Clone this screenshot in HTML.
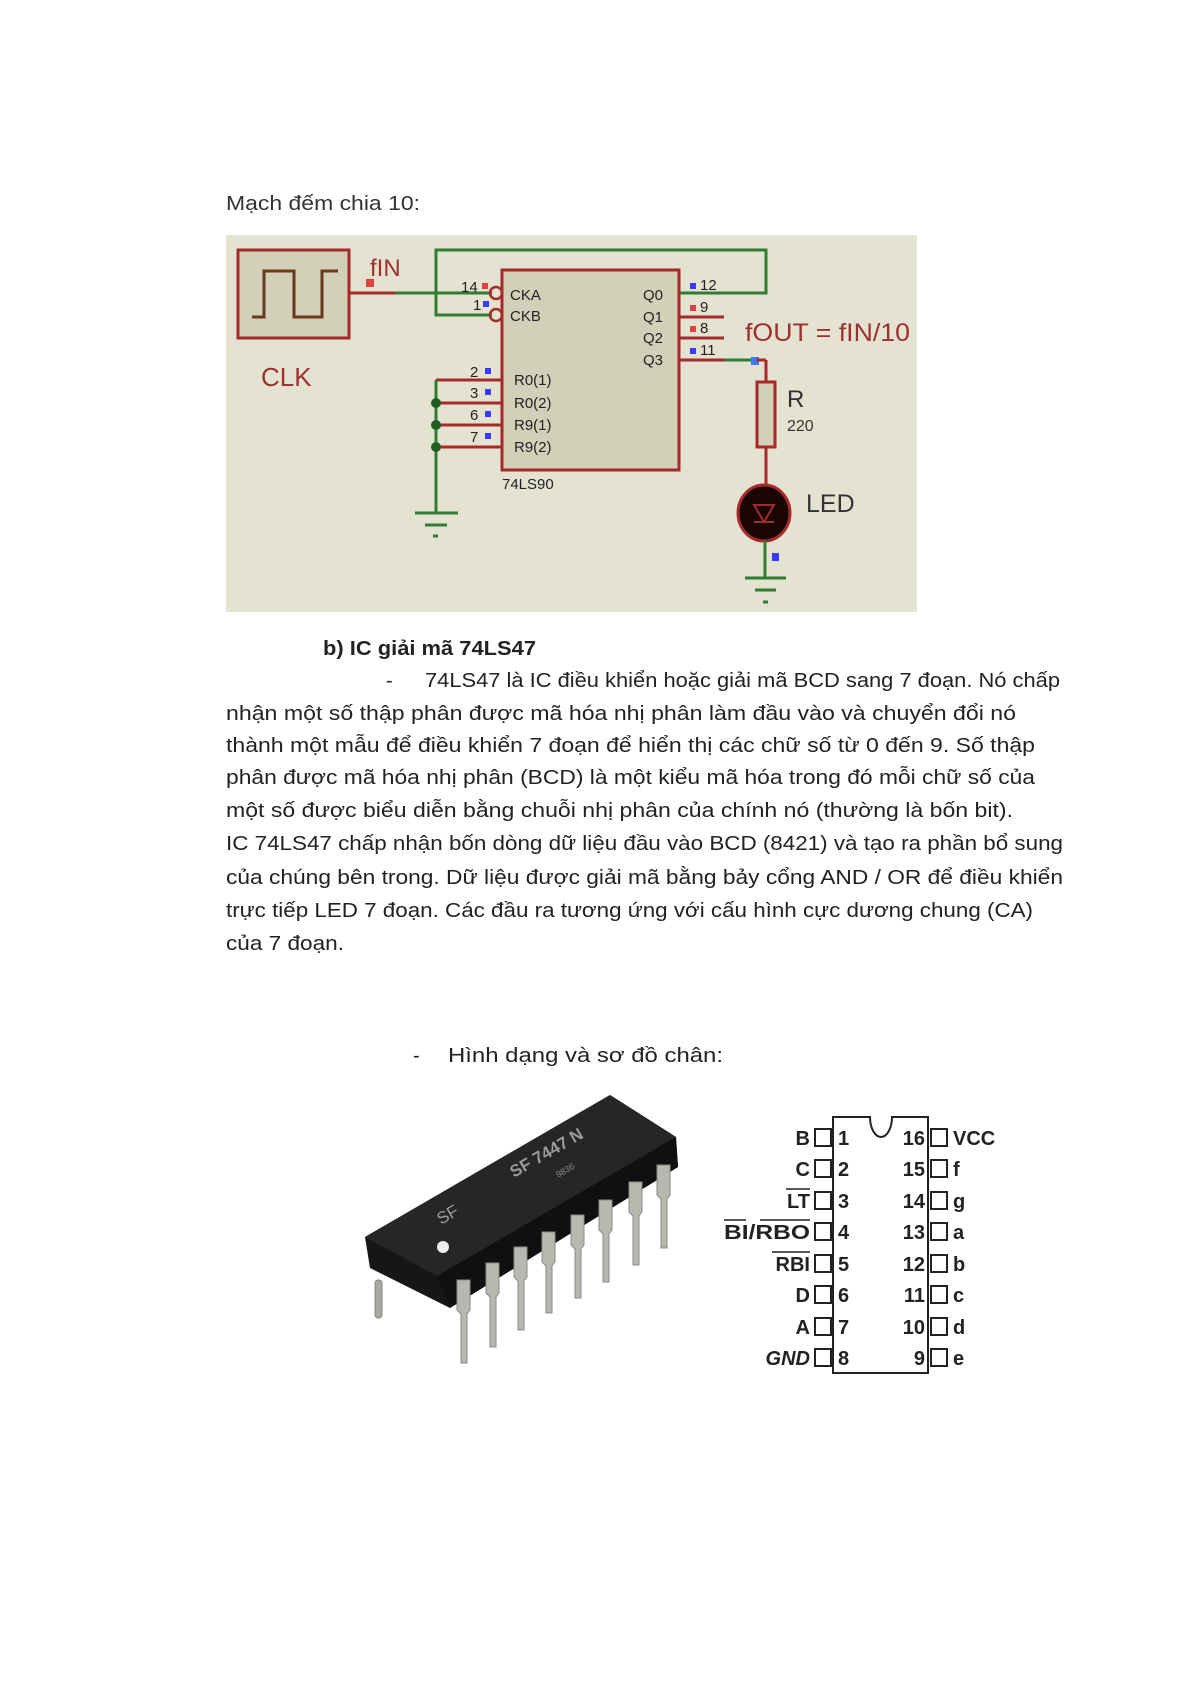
<!DOCTYPE html>
<html><head><meta charset="utf-8"><style>
html,body{margin:0;padding:0;background:#fff;}
svg{display:block;}
text{font-family:"Liberation Sans","DejaVu Sans",sans-serif;}
</style></head><body>
<svg width="1191" height="1685" viewBox="0 0 1191 1685" xmlns="http://www.w3.org/2000/svg">
<rect width="1191" height="1685" fill="#fff"/>
<text x="226" y="210" font-size="20" fill="#333" textLength="194" lengthAdjust="spacingAndGlyphs">Mạch đếm chia 10:</text>
<rect x="226" y="235" width="691" height="377" fill="#e4e3d2"/>
<rect x="238" y="250" width="111" height="88" fill="#d2d0b8" stroke="#a52a2a" stroke-width="3"/>
<polyline points="252,317 264,317 264,271 294,271 294,317 322,317 322,271 338,271" fill="none" stroke="#6b3a1a" stroke-width="3"/>
<text x="261" y="386" font-size="26" fill="#a03030">CLK</text>
<text x="370" y="276" font-size="24" fill="#a03030">fIN</text>
<rect x="366" y="279" width="8" height="8" fill="#e04040"/>
<line x1="349" y1="293" x2="492" y2="293" stroke="#2e7d32" stroke-width="3"/>
<line x1="349" y1="293" x2="395" y2="293" stroke="#a52a2a" stroke-width="3"/>
<polyline points="492,315 436,315 436,250 766,250 766,293 679,293" fill="none" stroke="#2e7d32" stroke-width="3"/>
<rect x="502" y="270" width="177" height="200" fill="#d2d0b8" stroke="#a52a2a" stroke-width="3"/>
<circle cx="496" cy="293" r="6" fill="none" stroke="#a52a2a" stroke-width="2.5"/>
<circle cx="496" cy="315" r="6" fill="none" stroke="#a52a2a" stroke-width="2.5"/>
<g font-size="15" fill="#222">
<text x="510" y="300">CKA</text><text x="510" y="321">CKB</text>
<text x="643" y="300">Q0</text><text x="643" y="322">Q1</text><text x="643" y="343">Q2</text><text x="643" y="365">Q3</text>
<text x="514" y="385">R0(1)</text><text x="514" y="408">R0(2)</text><text x="514" y="430">R9(1)</text><text x="514" y="452">R9(2)</text>
<text x="502" y="489">74LS90</text>
<text x="461" y="292">14</text><text x="473" y="310">1</text>
<text x="470" y="377">2</text><text x="470" y="398">3</text><text x="470" y="420">6</text><text x="470" y="442">7</text>
<text x="700" y="290">12</text><text x="700" y="312">9</text><text x="700" y="333">8</text><text x="700" y="355">11</text>
</g>
<rect x="482" y="283" width="6" height="6" fill="#e04040"/><rect x="483" y="301" width="6" height="6" fill="#3a3aff"/>
<rect x="485" y="368" width="6" height="6" fill="#3a3aff"/><rect x="485" y="389" width="6" height="6" fill="#3a3aff"/>
<rect x="485" y="411" width="6" height="6" fill="#3a3aff"/><rect x="485" y="433" width="6" height="6" fill="#3a3aff"/>
<rect x="690" y="283" width="6" height="6" fill="#3a3aff"/><rect x="690" y="305" width="6" height="6" fill="#e04040"/>
<rect x="690" y="326" width="6" height="6" fill="#e04040"/><rect x="690" y="348" width="6" height="6" fill="#3a3aff"/>
<g stroke="#a52a2a" stroke-width="3">
<line x1="679" y1="317" x2="724" y2="317"/><line x1="679" y1="338" x2="724" y2="338"/>
<line x1="679" y1="360" x2="730" y2="360"/>
</g>
<line x1="725" y1="360" x2="754" y2="360" stroke="#2e7d32" stroke-width="3"/>
<rect x="751" y="357" width="8" height="8" fill="#3a7aff"/>
<text x="745" y="341" font-size="25" fill="#a03030" textLength="165" lengthAdjust="spacingAndGlyphs">fOUT = fIN/10</text>
<line x1="766" y1="360" x2="766" y2="490" stroke="#a52a2a" stroke-width="3"/>
<line x1="756" y1="360" x2="766" y2="360" stroke="#a52a2a" stroke-width="3"/>
<rect x="757" y="382" width="18" height="65" fill="#d2d0b8" stroke="#a52a2a" stroke-width="3"/>
<text x="787" y="407" font-size="24" fill="#333">R</text>
<text x="787" y="431" font-size="16" fill="#333">220</text>
<ellipse cx="764" cy="513" rx="26" ry="28" fill="#1a0505" stroke="#a52a2a" stroke-width="3"/>
<polygon points="754,505 774,505 764,522" fill="none" stroke="#a52a2a" stroke-width="2"/>
<line x1="754" y1="522" x2="774" y2="522" stroke="#a52a2a" stroke-width="2"/>
<text x="806" y="512" font-size="25" fill="#333">LED</text>
<line x1="765" y1="541" x2="765" y2="578" stroke="#2e7d32" stroke-width="3"/>
<rect x="772" y="553" width="7" height="8" fill="#3a3aff"/>
<line x1="745" y1="578" x2="786" y2="578" stroke="#2e7d32" stroke-width="3"/>
<line x1="755" y1="590" x2="776" y2="590" stroke="#2e7d32" stroke-width="3"/>
<line x1="763" y1="602" x2="768" y2="602" stroke="#2e7d32" stroke-width="3"/>
<g stroke="#a52a2a" stroke-width="3">
<line x1="436" y1="380" x2="502" y2="380"/><line x1="436" y1="403" x2="502" y2="403"/>
<line x1="436" y1="425" x2="502" y2="425"/><line x1="436" y1="447" x2="502" y2="447"/>
</g>
<line x1="436" y1="380" x2="436" y2="513" stroke="#2e7d32" stroke-width="3"/>
<circle cx="436" cy="403" r="5" fill="#1f5f22"/><circle cx="436" cy="425" r="5" fill="#1f5f22"/><circle cx="436" cy="447" r="5" fill="#1f5f22"/>
<line x1="415" y1="513" x2="458" y2="513" stroke="#2e7d32" stroke-width="3"/>
<line x1="425" y1="525" x2="447" y2="525" stroke="#2e7d32" stroke-width="3"/>
<line x1="433" y1="536" x2="438" y2="536" stroke="#2e7d32" stroke-width="3"/>
<g fill="#222" font-size="20">
<text x="323" y="655" font-weight="bold" textLength="213" lengthAdjust="spacingAndGlyphs">b)  IC giải mã 74LS47</text>
<text x="386" y="687">-</text>
<text x="425" y="687" textLength="635" lengthAdjust="spacingAndGlyphs">74LS47 là IC điều khiển hoặc giải mã BCD sang 7 đoạn. Nó chấp</text>
<text x="226" y="720" textLength="790" lengthAdjust="spacingAndGlyphs">nhận một số thập phân được mã hóa nhị phân làm đầu vào và chuyển đổi nó</text>
<text x="226" y="752" textLength="809" lengthAdjust="spacingAndGlyphs">thành một mẫu để điều khiển 7 đoạn để hiển thị các chữ số từ 0 đến 9. Số thập</text>
<text x="226" y="784" textLength="809" lengthAdjust="spacingAndGlyphs">phân được mã hóa nhị phân (BCD) là một kiểu mã hóa trong đó mỗi chữ số của</text>
<text x="226" y="817" textLength="787" lengthAdjust="spacingAndGlyphs">một số được biểu diễn bằng chuỗi nhị phân của chính nó (thường là bốn bit).</text>
<text x="226" y="850" textLength="837" lengthAdjust="spacingAndGlyphs">IC 74LS47 chấp nhận bốn dòng dữ liệu đầu vào BCD (8421) và tạo ra phần bổ sung</text>
<text x="226" y="884" textLength="837" lengthAdjust="spacingAndGlyphs">của chúng bên trong. Dữ liệu được giải mã bằng bảy cổng AND / OR để điều khiển</text>
<text x="226" y="917" textLength="807" lengthAdjust="spacingAndGlyphs">trực tiếp LED 7 đoạn. Các đầu ra tương ứng với cấu hình cực dương chung (CA)</text>
<text x="226" y="950" textLength="118" lengthAdjust="spacingAndGlyphs">của 7 đoạn.</text>
<text x="413" y="1062">-</text>
<text x="448" y="1062" textLength="275" lengthAdjust="spacingAndGlyphs">Hình dạng và sơ đồ chân:</text>
</g>
<!-- chip photo -->
<g>
<rect x="375" y="1280" width="7" height="38" rx="3" fill="#a8a8a0" stroke="#888" stroke-width="1"/>
<polygon points="365,1237 610,1095 676,1137 678,1167 450,1308 370,1268" fill="#161616"/>
<polygon points="365,1237 610,1095 676,1137 437,1276" fill="#262626"/>
<polygon points="437,1276 676,1137 678,1167 450,1308" fill="#101010"/>
<circle cx="443" cy="1247" r="6" fill="#eee"/>
<text x="0" y="0" font-size="17" font-weight="bold" fill="#9a9a9a" transform="translate(514,1178) rotate(-30)">SF 7447 N</text>
<text x="0" y="0" font-size="9" fill="#888" transform="translate(558,1178) rotate(-30)">9836</text>
<text x="0" y="0" font-size="17" fill="#9a9a9a" transform="translate(441,1225) rotate(-30)">SF</text>
<g fill="#b8b8b0" stroke="#8a8a84" stroke-width="1">
<path d="M457,1280 h13 v30 l-3,4 v49 h-6 v-49 l-4,-4 z"/>
<path d="M486,1263 h13 v30 l-3,4 v50 h-6 v-50 l-4,-4 z"/>
<path d="M514,1247 h13 v30 l-3,4 v49 h-6 v-49 l-4,-4 z"/>
<path d="M542,1232 h13 v30 l-3,4 v47 h-6 v-47 l-4,-4 z"/>
<path d="M571,1215 h13 v30 l-3,4 v49 h-6 v-49 l-4,-4 z"/>
<path d="M599,1200 h13 v30 l-3,4 v48 h-6 v-48 l-4,-4 z"/>
<path d="M629,1182 h13 v30 l-3,4 v49 h-6 v-49 l-4,-4 z"/>
<path d="M657,1165 h13 v30 l-3,4 v49 h-6 v-49 l-4,-4 z"/>
</g>
</g>
<!-- pinout -->
<path d="M833,1117 L870,1117 A11,20 0 0 0 892,1117 L928,1117 L928,1373 L833,1373 Z" fill="#fff" stroke="#222" stroke-width="2"/>
<g fill="#fff" stroke="#222" stroke-width="2">
<rect x="815" y="1129" width="16" height="17"/><rect x="815" y="1160" width="16" height="17"/>
<rect x="815" y="1192" width="16" height="17"/><rect x="815" y="1223" width="16" height="17"/>
<rect x="815" y="1255" width="16" height="17"/><rect x="815" y="1286" width="16" height="17"/>
<rect x="815" y="1318" width="16" height="17"/><rect x="815" y="1349" width="16" height="17"/>
<rect x="931" y="1129" width="16" height="17"/><rect x="931" y="1160" width="16" height="17"/>
<rect x="931" y="1192" width="16" height="17"/><rect x="931" y="1223" width="16" height="17"/>
<rect x="931" y="1255" width="16" height="17"/><rect x="931" y="1286" width="16" height="17"/>
<rect x="931" y="1318" width="16" height="17"/><rect x="931" y="1349" width="16" height="17"/>
</g>
<g font-size="20" font-weight="bold" fill="#222" text-anchor="end">
<text x="810" y="1145">B</text><text x="810" y="1176">C</text><text x="810" y="1208">LT</text>
<text x="810" y="1239" textLength="86" lengthAdjust="spacingAndGlyphs">BI/RBO</text><text x="810" y="1271">RBI</text><text x="810" y="1302">D</text>
<text x="810" y="1334">A</text><text x="810" y="1365" font-style="italic">GND</text>
<text x="925" y="1145">16</text><text x="925" y="1176">15</text><text x="925" y="1208">14</text>
<text x="925" y="1239">13</text><text x="925" y="1271">12</text><text x="925" y="1302">11</text>
<text x="925" y="1334">10</text><text x="925" y="1365">9</text>
</g>
<g stroke="#222" stroke-width="1.5">
<line x1="786" y1="1189" x2="810" y2="1189"/><line x1="724" y1="1220" x2="746" y2="1220"/>
<line x1="760" y1="1220" x2="810" y2="1220"/><line x1="772" y1="1252" x2="810" y2="1252"/>
</g>
<g font-size="20" font-weight="bold" fill="#222">
<text x="838" y="1145">1</text><text x="838" y="1176">2</text><text x="838" y="1208">3</text>
<text x="838" y="1239">4</text><text x="838" y="1271">5</text><text x="838" y="1302">6</text>
<text x="838" y="1334">7</text><text x="838" y="1365">8</text>
<text x="953" y="1145">VCC</text><text x="953" y="1176">f</text><text x="953" y="1208">g</text>
<text x="953" y="1239">a</text><text x="953" y="1271">b</text><text x="953" y="1302">c</text>
<text x="953" y="1334">d</text><text x="953" y="1365">e</text>
</g>
</svg>
</body></html>
